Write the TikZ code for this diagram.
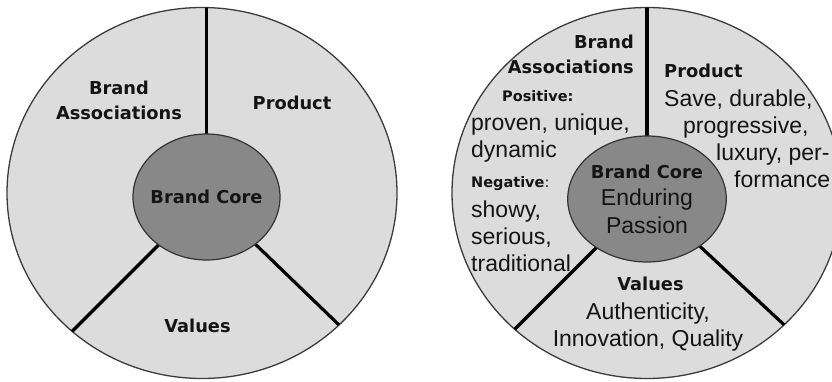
\documentclass[tikz,border=0pt]{standalone}
\usepackage{fontspec}
\setmainfont{Liberation Sans}
\newfontfamily\headfont{DejaVu Sans}
\definecolor{ringgray}{RGB}{220, 220, 220}
\definecolor{coregray}{RGB}{136, 136, 136}
\definecolor{edgegray}{RGB}{60, 60, 60}
\definecolor{inkgray}{RGB}{20, 20, 20}
\usetikzlibrary{shapes.geometric}
\tikzset{
	ring/.style={ellipse, draw=edgegray, fill=ringgray, line width=1.3pt, minimum width=390pt, minimum height=371pt, inner sep=0pt},
	core/.style={ellipse, draw=black!80, fill=coregray, line width=1.2pt, minimum width=147pt, minimum height=126pt, inner sep=0pt, align=center, text=inkgray, font=\fontsize{23}{27.5}\selectfont},
	divider/.style={line width=3.2pt, draw=black},
	head/.style={font=\headfont\bfseries\fontsize{17.8}{25.5}\selectfont, text=inkgray, inner sep=0pt, anchor=base},
	body/.style={font=\fontsize{23}{27}\selectfont, text=inkgray, inner sep=0pt, anchor=base west, align=left},
	sub/.style={font=\headfont\bfseries\fontsize{14.5}{17}\selectfont, text=inkgray, inner sep=0pt, anchor=base west},
}
\newcommand{\corehead}{\headfont\bfseries\fontsize{17.8}{22}\selectfont}

\begin{document}
\begin{tikzpicture}[x=1pt, y=-1pt]
	\useasboundingbox (0,0) rectangle (832,382);
	% left: the bare model
	\node[ring] (ringL) at (202,193) {};
	\begin{scope}
		\clip (202,193) ellipse [x radius=195, y radius=185.5];
		\draw[divider] (206.5,197) -- ++(270:250);
		\draw[divider] (206.5,197) -- ++(135:250);
		\draw[divider] (206.5,197) -- ++(44:250);
	\end{scope}
	\node[core] (coreL) at (206.5,197) {};
	\node[head] (coreLhead) at (206.5,204) {Brand Core};
	\node[head, align=center] (assocL) at (119,120) {Brand\\Associations};
	\node[head] (productL) at (292,110) {Product};
	\node[head] (valuesL) at (197.5,332) {Values};
	% right: the filled-in model
	\node[ring] (ringR) at (647,193) {};
	\begin{scope}
		\clip (647,193) ellipse [x radius=195, y radius=185.5];
		\draw[divider] (647,197) -- ++(270:250);
		\draw[divider] (647,197) -- ++(135:250);
		\draw[divider] (647,197) -- ++(43:250);
	\end{scope}
	\node[core] (coreR) at (647,199) {{\corehead Brand Core}\\Enduring\\Passion};
	\node[head, anchor=base east, align=right] (assocR) at (634,74) {Brand\\Associations};
	\node[sub] (posR) at (502,102) {Positive:};
	\node[body] (posRtext) at (471,158) {proven, unique,\\dynamic};
	\node[sub] (negR) at (471,187) {Negative{\mdseries:}};
	\node[body] (negRtext) at (471,271) {showy,\\serious,\\traditional};
	\node[head, anchor=base west] (productR) at (664,78) {Product};
	\node[body] (productRtext) at (664,188) {Save, durable,\\\hspace*{19pt}progressive,\\\hspace*{52pt}luxury, per-\\\hspace*{70pt}formance};
	\node[head] (valuesR) at (650.5,290) {Values};
	\node[body, anchor=base, align=center] (valuesRtext) at (648,346) {Authenticity,\\Innovation, Quality};
\end{tikzpicture}
\end{document}
